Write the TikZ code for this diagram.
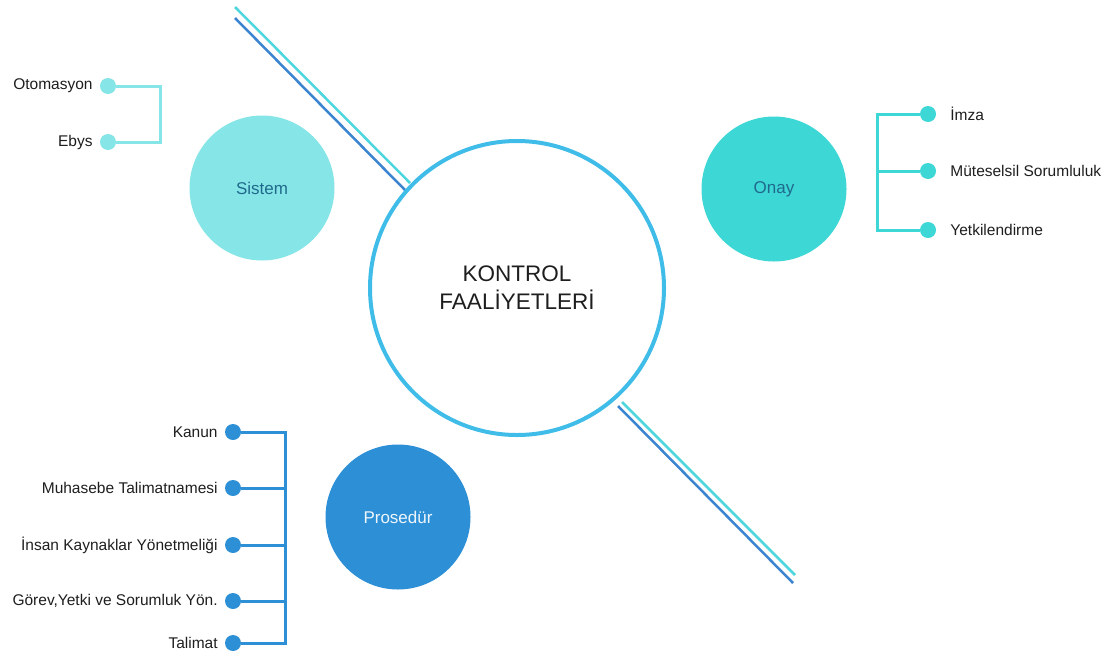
\documentclass[tikz,border=0pt]{standalone}
\usepackage{fontspec}
\setmainfont{Liberation Sans}
\usetikzlibrary{positioning}
\definecolor{sistemc}{HTML}{86E5E6}
\definecolor{onayc}{HTML}{3DD7D6}
\definecolor{prosc}{HTML}{2D8FD5}
\definecolor{ringc}{HTML}{3FBDE8}
\definecolor{cyanln}{HTML}{4ED6DE}
\definecolor{blueln}{HTML}{3A84D0}
\definecolor{txt}{HTML}{1E1E1E}
\definecolor{tealtxt}{HTML}{1F6A8C}

\begin{document}
\begin{tikzpicture}[x=1pt, y=-1pt, inner sep=0pt,
      dot/.style={circle, fill, minimum size=16pt},
      big/.style={circle, minimum size=145pt, font=\fontsize{17}{20}\selectfont},
      lbl/.style={font=\fontsize{15.5}{18}\selectfont, text=txt},
      link/.style={line width=3pt}]
      \useasboundingbox (0,0) rectangle (1110,654);
      % diagonal lines
      \coordinate (c1a) at (235,7);
      \coordinate (c1b) at (410,183);
      \coordinate (b1a) at (235,18);
      \coordinate (b1b) at (405,190);
      \coordinate (c2a) at (622,402);
      \coordinate (c2b) at (795,575);
      \coordinate (b2a) at (618,406);
      \coordinate (b2b) at (793,583);
      \draw[cyanln, line width=2.5pt] (c1a) -- (c1b);
      \draw[blueln, line width=2.5pt] (b1a) -- (b1b);
      \draw[cyanln, line width=2.5pt] (c2a) -- (c2b);
      \draw[blueln, line width=2.5pt] (b2a) -- (b2b);
      % center
      \node[circle, draw=ringc, line width=4pt, fill=white, minimum size=294pt,
            align=center, text=txt, font=\fontsize{22.5}{28}\selectfont]
            (center) at (517,288) {KONTROL\\FAALİYETLERİ};
      % sistem
      \node[big, fill=sistemc, text=tealtxt] (sistem) at (262,188) {Sistem};
      \node[dot, sistemc] (oto) at (108,86) {};
      \node[dot, sistemc] (ebys) at (108,142) {};
      \coordinate (sisj) at (160,114);
      \draw[link, sistemc] (oto) -| (sisj) |- (ebys);
      \node[lbl, left=7pt of oto] {Otomasyon};
      \node[lbl, left=7pt of ebys] {Ebys};
      % onay
      \node[big, fill=onayc, text=tealtxt] (onay) at (774,189) {Onay};
      \node[dot, onayc] (imza) at (928,114) {};
      \node[dot, onayc] (mutes) at (928,171) {};
      \node[dot, onayc] (yetki) at (928,230) {};
      \coordinate (onayj) at (877,171);
      \draw[link, onayc] (imza) -| (onayj) |- (yetki);
      \draw[link, onayc] (onayj) -- (mutes);
      \node[lbl, right=14pt of imza] {İmza};
      \node[lbl, right=14pt of mutes] {Müteselsil Sorumluluk};
      \node[lbl, right=14pt of yetki] {Yetkilendirme};
      % prosedur
      \node[big, fill=prosc, text=white!92!prosc] (pros) at (398,517) {Prosedür};
      \node[dot, prosc] (kanun) at (233,432) {};
      \node[dot, prosc] (muh) at (233,488) {};
      \node[dot, prosc] (insan) at (233,545) {};
      \node[dot, prosc] (gorev) at (233,601) {};
      \node[dot, prosc] (talimat) at (233,643) {};
      \coordinate (prosj) at (285,545);
      \draw[link, prosc] (kanun) -| (prosj) |- (talimat);
      \draw[link, prosc] (muh) -| (prosj);
      \draw[link, prosc] (gorev) -| (prosj);
      \draw[link, prosc] (prosj) -- (insan);
      \node[lbl, left=7pt of kanun] {Kanun};
      \node[lbl, left=7pt of muh] {Muhasebe Talimatnamesi};
      \node[lbl, left=7pt of insan] {İnsan Kaynaklar Yönetmeliği};
      \node[lbl, left=7pt of gorev] {Görev,Yetki ve Sorumluk Yön.};
      \node[lbl, left=7pt of talimat] {Talimat};
  \end{tikzpicture}
\end{document}
